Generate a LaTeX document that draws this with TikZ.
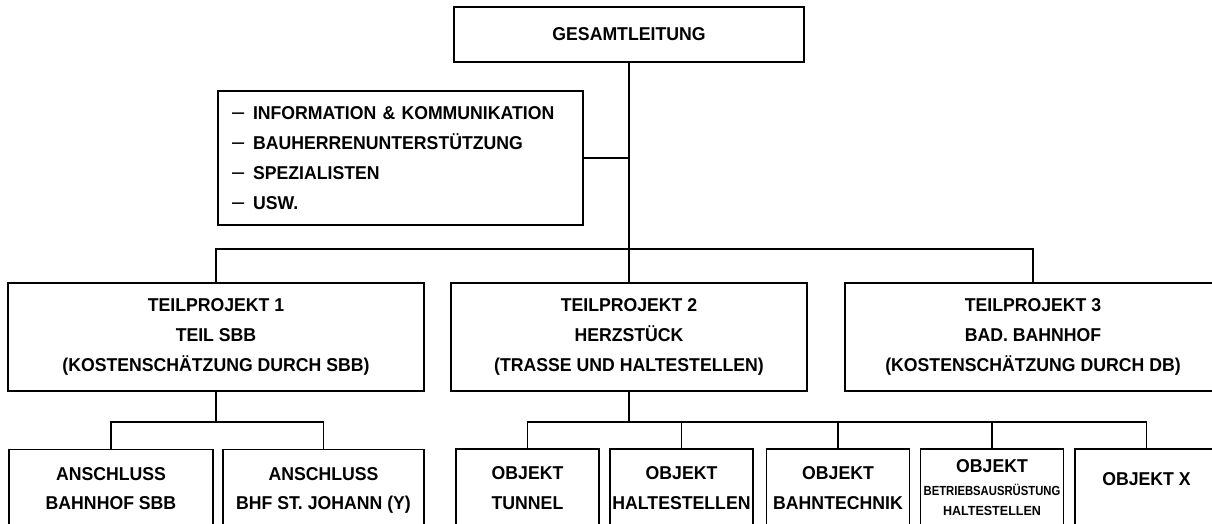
\documentclass[tikz,border=0pt]{standalone}
\usepackage{fontspec}
\setmainfont{Liberation Sans}[FakeStretch=0.95]
\newcommand\bigtxt{\fontsize{18.6}{30}\selectfont\bfseries}
\newcommand\bottxt{\fontsize{18.6}{29.5}\selectfont\bfseries}
\newcommand\smalltxt{\fontsize{13.2}{20}\selectfont\bfseries}
\newcommand\dashitem{\makebox[21pt][l]{\mdseries\fontsize{23}{23}\selectfont\textendash}}
\begin{document}
\begin{tikzpicture}[x=1pt,y=-1pt,
  box/.style={draw, line width=1.6pt, inner sep=1pt, align=center, font=\bigtxt},
  botbox/.style={box, font=\bottxt, minimum height=78pt},
  objbox/.style={botbox, minimum width=143pt},
  link/.style={line width=1.5pt},
]
\useasboundingbox (0,0) rectangle (1212,524);
\clip (0,0) rectangle (1212,524);
\fill[white] (0,0) rectangle (1212,524);

% top level
\node[box, line width=1.9pt, minimum width=350pt, minimum height=55pt] (gl) at (629,34.5) {GESAMTLEITUNG};

% staff box
\node[box, minimum width=365pt, minimum height=134pt, text width=337pt, inner xsep=14pt, align=left] (info) at (400.5,158)
  {\dashitem INFORMATION \& KOMMUNIKATION\\
   \dashitem BAUHERRENUNTERSTÜTZUNG\\
   \dashitem SPEZIALISTEN\\
   \dashitem USW.};

% sub-projects
\node[box, minimum width=416pt, minimum height=108pt] (tp1) at (216,337)
  {TEILPROJEKT 1\\TEIL SBB\\(KOSTENSCHÄTZUNG DURCH SBB)};
\node[box, minimum width=356pt, minimum height=108pt] (tp2) at (629,337)
  {TEILPROJEKT 2\\HERZSTÜCK\\(TRASSE UND HALTESTELLEN)};
\node[box, minimum width=376pt, minimum height=108pt] (tp3) at (1033,337)
  {TEILPROJEKT 3\\BAD. BAHNHOF\\(KOSTENSCHÄTZUNG DURCH DB)};

% objects
\node[botbox, minimum width=204pt] (a1) at (111,488.5) {ANSCHLUSS\\BAHNHOF SBB};
\node[botbox, minimum width=201pt] (a2) at (323.5,488.5) {\raisebox{0pt}[13.3pt][0pt]{ANSCHLUSS}\\\raisebox{0pt}[13.3pt][0pt]{BHF ST. JOHANN (Y)}};
\node[objbox] (o1) at (527.5,488) {OBJEKT\\TUNNEL};
\node[objbox] (o2) at (681.5,488) {OBJEKT\\HALTESTELLEN};
\node[objbox] (o3) at (838,488) {OBJEKT\\BAHNTECHNIK};
\node[objbox, font=\smalltxt] (o4) at (992,488)
  {{\bigtxt OBJEKT}\\[3pt]\scalebox{0.9}[1]{BETRIEBSAUSRÜSTUNG}\\HALTESTELLEN};
\node[objbox] (o5) at (1146.5,488) {\raisebox{9pt}[13.3pt][0pt]{OBJEKT X}};

% connectors
\draw[link] (gl.south) -- (tp2.north);
\draw[link] (info.east) -- (info.east -| gl.south);
\draw[link] (tp1.north) -- ++(0,-33) -| (tp3.north);

\draw[link] (tp1.south) -- ++(0,30) coordinate (j1);
\draw[link] (a1.north) |- (j1) -| (a2.north);

\draw[link] (tp2.south) -- ++(0,30) coordinate (j2);
\draw[link] (o1.north) |- (j2) -| (o5.north);
\draw[link] (o2.north) -- (o2.north |- j2);
\draw[link] (o3.north) -- (o3.north |- j2);
\draw[link] (o4.north) -- (o4.north |- j2);
\end{tikzpicture}
\end{document}
